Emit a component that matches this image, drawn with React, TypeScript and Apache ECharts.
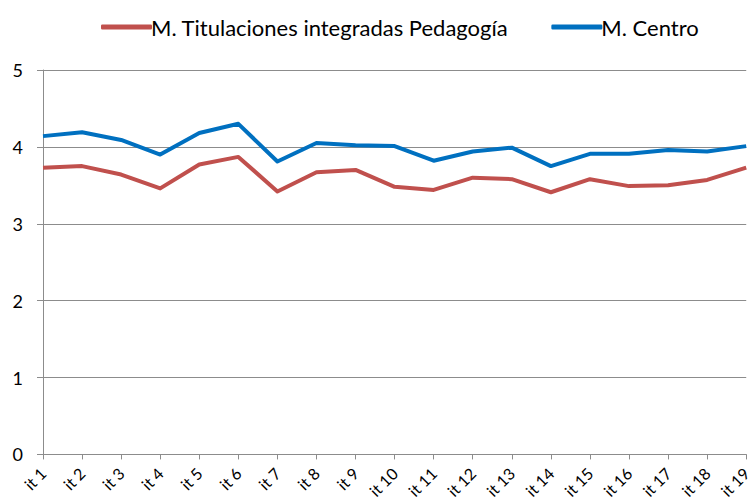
import React, { useEffect, useRef } from "react";
import * as echarts from "echarts";

const categories = ["it 1","it 2","it 3","it 4","it 5","it 6","it 7","it 8","it 9","it 10","it 11","it 12","it 13","it 14","it 15","it 16","it 17","it 18","it 19"];
const pedagogia = [3.73,3.75,3.64,3.46,3.77,3.87,3.42,3.67,3.70,3.48,3.44,3.60,3.58,3.41,3.58,3.49,3.50,3.57,3.73];
const centro = [4.14,4.19,4.09,3.90,4.18,4.30,3.81,4.05,4.02,4.01,3.82,3.94,3.99,3.75,3.91,3.91,3.96,3.94,4.01];
const seriesNames = ["M. Titulaciones integradas Pedagogía", "M. Centro"];

const FONT = "Lato";

export default function App() {
  const ref = useRef<HTMLDivElement>(null);
  useEffect(() => {
    if (!ref.current) return;
    const chart = echarts.init(ref.current, null, { renderer: "svg" });
    chart.setOption({
      animation: false,
      backgroundColor: "#ffffff",
      legend: {
        left: 96,
        top: 11,
        icon: "roundRect",
        itemWidth: 51,
        itemHeight: 5,
        itemGap: 43,
        textStyle: { fontFamily: FONT, fontSize: 22, color: "#000", padding: [0, 0, 0, -6] },
        data: seriesNames,
      },
      grid: { left: 43, right: 2, top: 70, bottom: 45, containLabel: false },
      xAxis: {
        type: "category",
        data: categories,
        boundaryGap: false,
        axisLine: { lineStyle: { color: "#8c8c8c", width: 1 } },
        axisTick: { show: true, length: 5, alignWithLabel: true, lineStyle: { color: "#8c8c8c" } },
        axisLabel: { rotate: 45, interval: 0, margin: 16, fontFamily: FONT, fontSize: 16, color: "#000" },
        splitLine: { show: false },
      },
      yAxis: {
        type: "value",
        min: 0,
        max: 5,
        interval: 1,
        axisLine: { show: true, lineStyle: { color: "#8c8c8c", width: 1 } },
        axisTick: { show: true, length: 6, lineStyle: { color: "#8c8c8c" } },
        axisLabel: { margin: 20, fontFamily: FONT, fontSize: 18, color: "#000" },
        splitLine: { show: true, lineStyle: { color: "#8c8c8c", width: 1 } },
      },
      series: [
        {
          name: seriesNames[0],
          type: "line",
          data: pedagogia,
          symbol: "none",
          lineStyle: { color: "#C0504D", width: 4, join: "round" },
          itemStyle: { color: "#C0504D" },
        },
        {
          name: seriesNames[1],
          type: "line",
          data: centro,
          symbol: "none",
          lineStyle: { color: "#0070C0", width: 4, join: "round" },
          itemStyle: { color: "#0070C0" },
        },
      ],
    });
    return () => chart.dispose();
  }, []);
  return <div ref={ref} style={{ width: 754, height: 501, position: "absolute", left: 0, top: 0 }} />;
}
